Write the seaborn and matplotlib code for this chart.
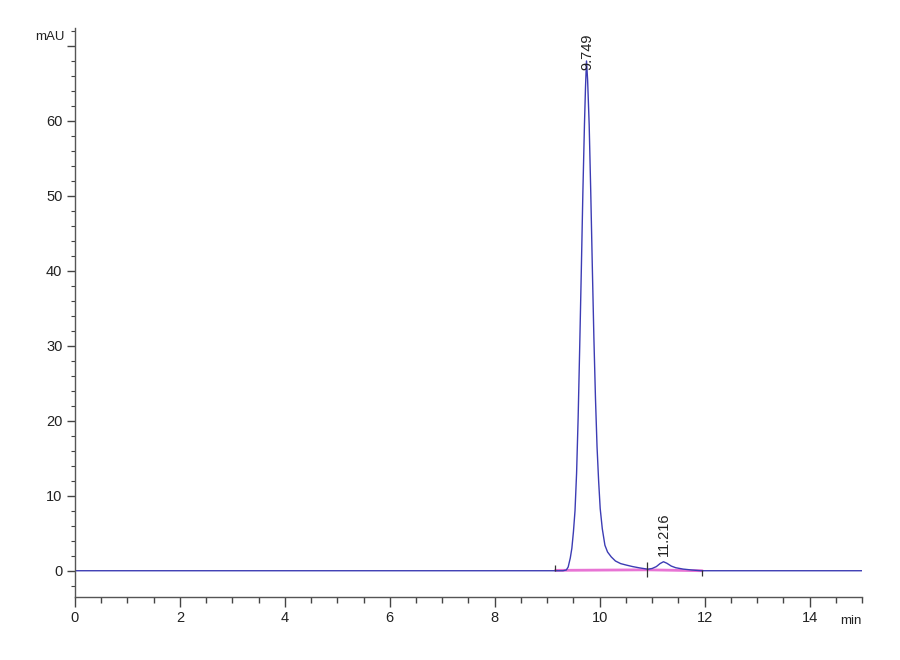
import numpy as np
import pandas as pd
import matplotlib
matplotlib.use('Agg')
import matplotlib.pyplot as plt
import matplotlib.transforms as mtransforms
from matplotlib.ticker import MultipleLocator, FixedLocator
import seaborn as sns

# retention time (min) and detector signal (mAU)
time_min = [0.0, 9.155, 9.30, 9.365, 9.40, 9.44, 9.47, 9.50, 9.53, 9.56, 9.59,
            9.62, 9.65, 9.68, 9.71, 9.73, 9.749, 9.77, 9.80, 9.83, 9.86,
            9.89, 9.92, 9.95, 9.98, 10.01, 10.05, 10.10, 10.15, 10.22, 10.30,
            10.40, 10.51, 10.63, 10.76, 10.85, 10.92, 11.00, 11.08, 11.15,
            11.216, 11.28, 11.365, 11.45, 11.59, 11.75, 11.90, 11.96, 15.0]
signal_mau = [0.0, 0.0, 0.0, 0.1, 0.5, 1.7, 3.0, 5.2, 8.0, 13.0, 20.5,
              30.0, 40.0, 50.5, 59.5, 64.5, 68.0, 65.5, 59.5, 50.5, 40.5,
              31.0, 23.0, 16.5, 12.0, 8.3, 5.6, 3.4, 2.5, 1.85, 1.3,
              0.95, 0.75, 0.55, 0.38, 0.28, 0.2, 0.3, 0.55, 0.95,
              1.2, 1.0, 0.62, 0.4, 0.22, 0.1, 0.02, 0.0, 0.0]

# integration baseline (drawn pink) and peak event marks
base_time = [9.155, 10.90, 11.956]
base_mau = [0.05, 0.12, 0.0]
event_times = [9.155, 10.90, 11.956]

peak_rt = [9.749, 11.216]
peak_labels = ['9.749', '11.216']
peak_label_y = [66.8, 2.0]

df = pd.DataFrame({'time': time_min, 'mAU': signal_mau})
bl = pd.DataFrame({'time': base_time, 'mAU': base_mau})

sns.set_style('ticks')
plt.rcParams['font.family'] = ['Liberation Sans', 'DejaVu Sans']

fig = plt.figure(figsize=(9, 6.6), dpi=100)
ax = fig.add_axes([0.0833, 0.0955, 0.8745, 0.8621])

sns.lineplot(data=bl, x='time', y='mAU', ax=ax, color='#e874d4', lw=2.0,
             sort=False, estimator=None)
sns.lineplot(data=df, x='time', y='mAU', ax=ax, color='#3c3cb4', lw=1.0,
             sort=False, estimator=None)

# event tick marks on the baseline
ax.vlines(event_times[0], 0.0, 0.8, color='#333333', lw=0.9)
ax.vlines(event_times[1], -0.8, 1.1, color='#333333', lw=0.9)
ax.vlines(event_times[2], -0.7, 0.1, color='#333333', lw=0.9)

for rt, lab, yy in zip(peak_rt, peak_labels, peak_label_y):
    ax.text(rt + 0.01, yy, lab, rotation=90, ha='center', va='bottom',
            fontsize=10.5, color='#222222')

ax.set_xlim(0, 15)
ax.set_ylim(-3.5, 72.4)
ax.set_xlabel('')
ax.set_ylabel('')

ax.xaxis.set_major_locator(MultipleLocator(2))
ax.xaxis.set_minor_locator(MultipleLocator(0.5))
ax.yaxis.set_major_locator(FixedLocator([0, 10, 20, 30, 40, 50, 60, 70]))
ax.yaxis.set_minor_locator(MultipleLocator(2))
ax.set_yticklabels(['0', '10', '20', '30', '40', '50', '60', ''])

ax.tick_params(axis='both', which='major', labelsize=10.5, colors='#444444',
               labelcolor='#222222', width=1.0, pad=3)
ax.tick_params(axis='x', which='major', length=7)
ax.tick_params(axis='x', which='minor', length=4, width=1.0, colors='#444444')
ax.tick_params(axis='y', which='major', length=6)
ax.tick_params(axis='y', which='minor', length=3, width=0.8, colors='#444444')

sns.despine(ax=ax)
for s in ['left', 'bottom']:
    ax.spines[s].set_color('#555555')
    ax.spines[s].set_linewidth(1.0)

trans_y = mtransforms.blended_transform_factory(ax.transAxes, ax.transData)
ax.text(-0.013, 71.2, 'mAU', transform=trans_y, ha='right', va='center',
        fontsize=9.5, color='#222222')
trans_x = mtransforms.blended_transform_factory(ax.transData, ax.transAxes)
ax.text(15.0, -0.031, 'min', transform=trans_x, ha='right', va='top',
        fontsize=9.5, color='#222222')

fig.savefig('out.png', dpi=100, facecolor='white')
